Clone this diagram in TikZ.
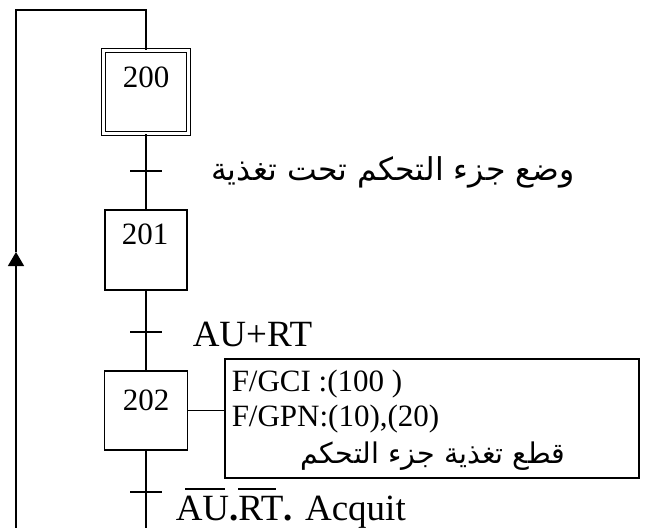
\documentclass[tikz,border=0pt]{standalone}
\usepackage{fontspec}
\setmainfont{Liberation Serif}
\newfontfamily\arabicfont[Script=Arabic]{DejaVu Sans}
\TeXXeTstate=1
\usetikzlibrary{arrows.meta}
\newcommand\ovl[3]{\setbox0\hbox{#1}\rlap{\kern#2\rule[\dimexpr\ht0+5.5pt\relax]{\dimexpr\wd0-#2-#3\relax}{2pt}}\box0}
\begin{document}
\begin{tikzpicture}[x=1pt,y=-1pt,line width=1.5pt,
  stepbox/.style={draw,inner sep=0pt,minimum width=82pt,minimum height=80pt},
  numtext/.style={inner sep=0pt,font=\fontsize{31}{36}\selectfont},
  acttext/.style={inner sep=0pt,anchor=base west,font=\fontsize{31}{36}\selectfont},
  translab/.style={inner sep=0pt,anchor=base west,font=\fontsize{37}{44}\selectfont},
  arlab/.style={inner sep=0pt,font=\arabicfont\fontsize{31.5}{36}\selectfont},
  arbox/.style={inner sep=0pt,font=\arabicfont\fontsize{28.5}{34}\selectfont},
  tick/.style={line width=1.5pt}]
\useasboundingbox (0,0) rectangle (646,528);
% steps
\node[stepbox,double,double distance=2.8pt,line width=1.4pt,minimum width=85pt,minimum height=83pt] (s200) at (146,92) {};
\node[numtext] (n200) at (146,77) {200};
\node[stepbox] (s201) at (146,250) {};
\node[numtext] (n201) at (145,234) {201};
\node[stepbox,minimum width=83pt,minimum height=79pt] (s202) at (146,410.5) {};
\node[numtext] (n202) at (146,400) {202};
% action box
\node[draw,inner sep=0pt,minimum width=414pt,minimum height=119pt] (act) at (432,418.5) {};
\node[acttext] (a1) at (231,391) {F/GCI :(100 )};
\node[acttext] (a2) at (231,426) {F/GPN:(10),(20)};
\node[arbox,anchor=base] (a3) at (433,463) {\beginR قطع تغذية جزء التحكم\endR};
% coordinates
\coordinate (topR) at (146,10);
\coordinate (topL) at (16,10);
\coordinate (arr) at (16,252);
\coordinate (botL) at (16,528);
\coordinate (botM) at (146,528);
\coordinate (t1) at (146,171);
\coordinate (t2) at (146,332);
\coordinate (t3) at (146,492);
% connectors
\draw (s200.south) -- (s201.north);
\draw (s201.south) -- (s202.north);
\draw (s202.south) -- (botM);
\draw (s200.north) -- (topR) -- (topL) -- (arr);
\draw[-{Triangle[length=14pt,width=16pt]}] (botL) -- (arr);
\draw (s202.east) -- (s202.east -| act.west);
% transitions
\draw[tick] ([xshift=-16pt]t1) -- ([xshift=16pt]t1);
\draw[tick] ([xshift=-16pt]t2) -- ([xshift=16pt]t2);
\draw[tick] ([xshift=-16pt]t3) -- ([xshift=16pt]t3);
% transition labels
\node[arlab,anchor=east] (l1) at (575,172) {\beginR وضع جزء التحكم تحت تغذية\endR};
\node[translab] (l2) at (192,346) {AU+RT};
\node[translab] (l3) at (175,520) {\ovl{AU}{0.25em}{0.1em}\textbf{.}\ovl{RT}{0em}{0.2em}\textbf{.} Acquit};
\end{tikzpicture}
\end{document}
